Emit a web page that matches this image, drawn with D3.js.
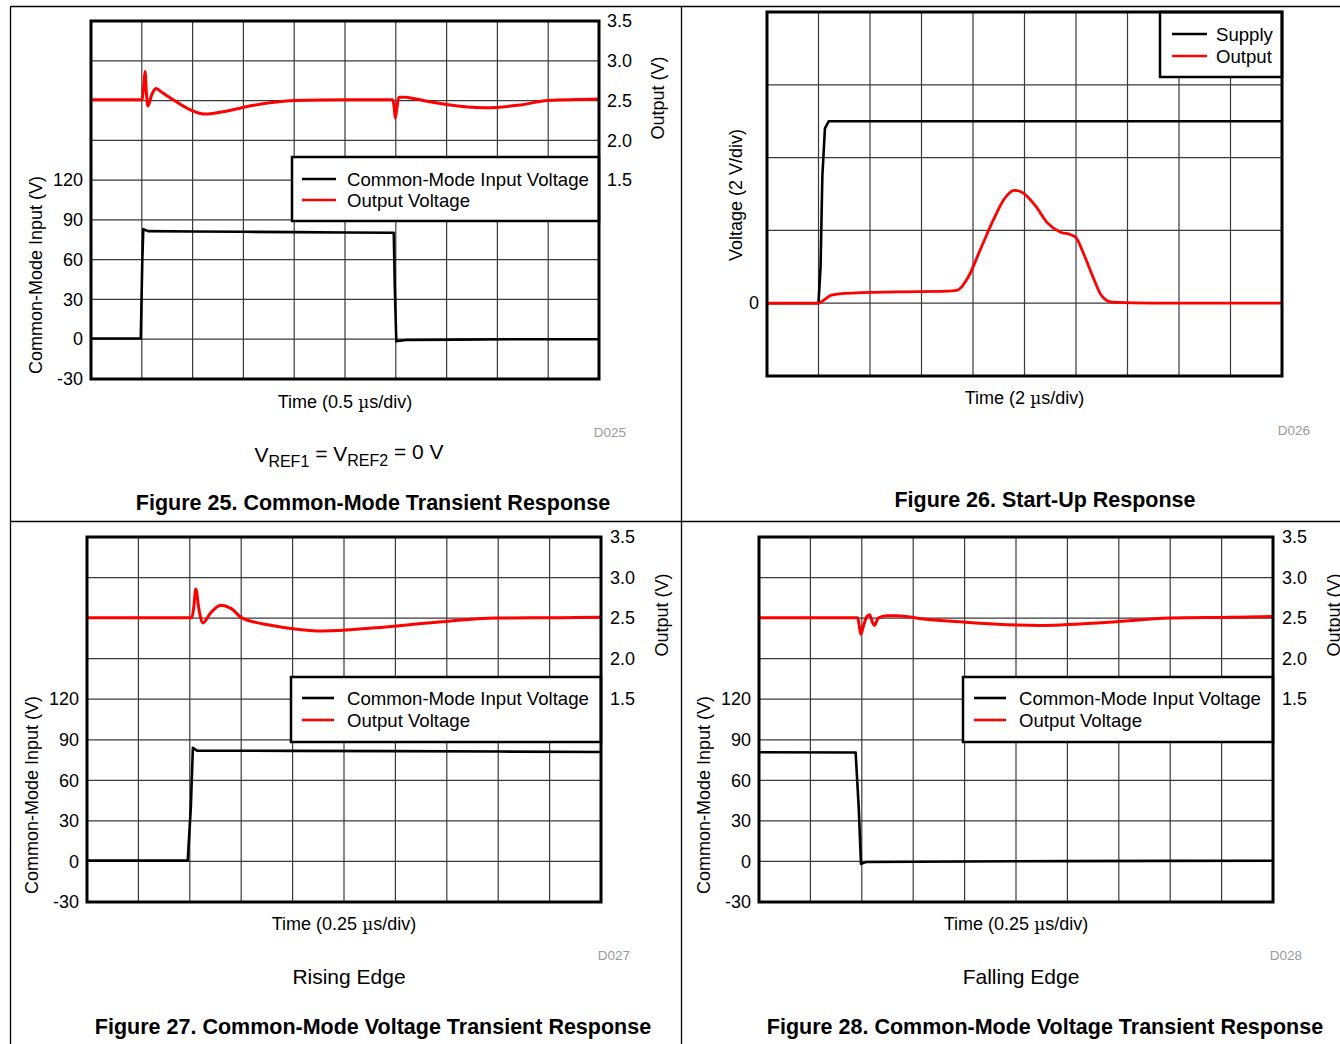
<!DOCTYPE html>
<html><head><meta charset="utf-8">
<script src="https://cdn.jsdelivr.net/npm/d3@7"></script>
<style>
html,body{margin:0;padding:0;background:#fff;}
svg{display:block;font-family:"Liberation Sans",Arial,sans-serif;}
</style></head>
<body>
<svg id="chart" width="1340" height="1044"></svg>
<script>
// ---------- DATA ----------
// Figure 25: time (us), common-mode input (V) / output (V)
const fig25Input = [[0,0.6],[0.49,0.6],[0.505,60],[0.515,83],[0.56,81.5],[1.0,81.2],[1.5,81],[2.0,80.8],[2.5,80.5],[2.98,80.3],[2.99,40],[3.005,-1.5],[3.1,-0.6],[3.6,-0.3],[4.2,0],[5,0]];
const fig25Output = [[0,2.51],[0.5,2.51],[0.52,2.7],[0.532,2.865],[0.545,2.6],[0.56,2.43],[0.6,2.58],[0.64,2.65],[0.7,2.6],[0.82,2.5],[0.95,2.4],[1.12,2.33],[1.3,2.36],[1.6,2.44],[2.0,2.5],[2.5,2.51],[2.97,2.51],[2.985,2.4],[2.995,2.28],[3.01,2.4],[3.03,2.54],[3.1,2.54],[3.16,2.53],[3.27,2.5],[3.5,2.45],[3.87,2.41],[4.2,2.44],[4.5,2.5],[5,2.52]];
// Figure 26: time (us), voltage (V)
const fig26Supply = [[0,0],[2.0,0],[2.08,1.0],[2.15,3.5],[2.25,4.8],[2.4,5.0],[20,5.0]];
const fig26Output = [[0,0],[2.0,0],[2.2,0.08],[2.5,0.22],[3.0,0.27],[5.0,0.31],[7.0,0.33],[7.4,0.36],[7.8,0.7],[8.3,1.5],[8.8,2.3],[9.2,2.85],[9.6,3.1],[9.9,3.05],[10.4,2.7],[10.9,2.2],[11.4,1.95],[11.8,1.88],[12.0,1.8],[12.3,1.35],[12.7,0.65],[13.0,0.2],[13.4,0.03],[15,0],[20,0]];
// Figure 27: time (us), rising edge
const fig27Input = [[0,0.6],[0.49,0.6],[0.505,40],[0.515,84],[0.535,82],[1.0,81.8],[1.5,81.6],[2.0,81.3],[2.5,81]];
const fig27Output = [[0,2.505],[0.51,2.505],[0.52,2.65],[0.529,2.86],[0.545,2.6],[0.564,2.44],[0.6,2.56],[0.651,2.66],[0.7,2.62],[0.755,2.5],[0.9,2.41],[1.0,2.37],[1.145,2.34],[1.4,2.38],[1.7,2.45],[1.995,2.5],[2.3,2.505],[2.5,2.51]];
// Figure 28: time (us), falling edge
const fig28Input = [[0,80.8],[0.47,80.6],[0.485,40],[0.496,-1.8],[0.52,-0.4],[1.0,0],[1.5,0.2],[2.0,0.4],[2.5,0.5]];
const fig28Output = [[0,2.505],[0.48,2.505],[0.488,2.4],[0.495,2.30],[0.51,2.42],[0.525,2.52],[0.538,2.54],[0.55,2.46],[0.561,2.41],[0.58,2.5],[0.62,2.53],[0.67,2.53],[0.8,2.49],[1.0,2.45],[1.36,2.41],[1.7,2.45],[2.0,2.5],[2.3,2.51],[2.5,2.52]];

const cmTicks = ["-30", "0", "30", "60", "90", "120"];
const outTicks = ["1.5", "2.0", "2.5", "3.0", "3.5"];
const fig26Ticks = ["0"];

// ---------- DRAWING ----------
const svg = d3.select("#chart");
const FONT = '"Liberation Sans",Arial,sans-serif';
const TICK_FS = 18, TITLE_FS = 18, LEG_FS = 18.6, CAP_FS = 21.5, NOTE_FS = 21;

// page frame
const frame = svg.append("g").attr("stroke", "#000").attr("stroke-width", 1.3);
frame.append("line").attr("x1", 10.5).attr("x2", 1340).attr("y1", 6.5).attr("y2", 6.5);
frame.append("line").attr("x1", 10.5).attr("x2", 1340).attr("y1", 521.5).attr("y2", 521.5);
frame.append("line").attr("x1", 10.5).attr("x2", 10.5).attr("y1", 6.5).attr("y2", 1044);
frame.append("line").attr("x1", 681.5).attr("x2", 681.5).attr("y1", 6.5).attr("y2", 1044);

function panel(cfg) {
  const g = svg.append("g");
  const x = d3.scaleLinear().domain(cfg.xDomain).range([cfg.left, cfg.right]);
  const y = d3.scaleLinear().domain(cfg.yDomain).range([cfg.bottom, cfg.top]);
  const y2 = cfg.y2Domain ? d3.scaleLinear().domain(cfg.y2Domain).range([cfg.bottom, cfg.top]) : null;

  // grid
  const xs = d3.range(cfg.xDomain[0] + cfg.xStep, cfg.xDomain[1] - cfg.xStep / 2, cfg.xStep);
  const ys = d3.range(cfg.yDomain[0] + cfg.yStep, cfg.yDomain[1] - cfg.yStep / 2, cfg.yStep);
  g.append("g").selectAll("line").data(xs).join("line")
    .attr("x1", d => x(d)).attr("x2", d => x(d)).attr("y1", cfg.top).attr("y2", cfg.bottom)
    .attr("stroke", "#3a3a3a").attr("stroke-width", 1.2);
  g.append("g").selectAll("line").data(ys).join("line")
    .attr("y1", d => y(d)).attr("y2", d => y(d)).attr("x1", cfg.left).attr("x2", cfg.right)
    .attr("stroke", "#3a3a3a").attr("stroke-width", 1.2);

  // left axis
  const la = g.append("g").attr("transform", `translate(${cfg.left},0)`)
    .call(d3.axisLeft(y).tickValues(cfg.leftTicks.map(Number)).tickSize(0).tickPadding(cfg.leftPad).tickFormat(d => String(d)));
  la.select(".domain").remove();
  la.selectAll("text").attr("font-family", FONT).attr("font-size", TICK_FS).attr("fill", "#000");

  // right axis
  if (y2) {
    const ra = g.append("g").attr("transform", `translate(${cfg.right},0)`)
      .call(d3.axisRight(y2).tickValues(outTicks.map(Number)).tickSize(0).tickPadding(cfg.rightPad).tickFormat(d => d.toFixed(1)));
    ra.select(".domain").remove();
    ra.selectAll("text").attr("font-family", FONT).attr("font-size", TICK_FS).attr("fill", "#000");
  }

  // series
  const clipId = "clip" + cfg.id;
  svg.append("clipPath").attr("id", clipId).append("rect")
    .attr("x", cfg.left).attr("y", cfg.top).attr("width", cfg.right - cfg.left).attr("height", cfg.bottom - cfg.top);
  const sg = g.append("g").attr("clip-path", `url(#${clipId})`);
  cfg.series.forEach(s => {
    const ys_ = s.axis === 2 ? y2 : y;
    const line = d3.line().x(d => x(d[0])).y(d => ys_(d[1])).curve(s.curve || d3.curveMonotoneX);
    sg.append("path").datum(s.data).attr("d", line).attr("fill", "none")
      .attr("stroke", s.color).attr("stroke-width", s.width).attr("stroke-linejoin", "round");
  });

  // legend
  const L = cfg.legend;
  const lg = g.append("g");
  lg.append("rect").attr("x", L.x).attr("y", L.y).attr("width", L.w).attr("height", L.h)
    .attr("fill", "#fff").attr("stroke", "#000").attr("stroke-width", 2.5);
  L.items.forEach((it, i) => {
    const yy = L.y + L.first + i * L.gap;
    lg.append("line").attr("x1", L.x + L.s0).attr("x2", L.x + L.s1).attr("y1", yy).attr("y2", yy)
      .attr("stroke", it.color).attr("stroke-width", 2.6);
    lg.append("text").attr("x", L.x + L.tx).attr("y", yy).attr("dy", "0.35em")
      .attr("font-family", FONT).attr("font-size", LEG_FS).text(it.label);
  });

  // plot border
  g.append("rect").attr("x", cfg.left).attr("y", cfg.top).attr("width", cfg.right - cfg.left).attr("height", cfg.bottom - cfg.top)
    .attr("fill", "none").attr("stroke", "#000").attr("stroke-width", 3);

  // titles
  g.append("text").attr("transform", `translate(${cfg.yTitleX},${cfg.yTitleY}) rotate(-90)`)
    .attr("text-anchor", "middle").attr("dy", "0.35em").attr("font-family", FONT).attr("font-size", TITLE_FS).text(cfg.yTitle);
  if (cfg.y2Title) {
    g.append("text").attr("transform", `translate(${cfg.y2TitleX},${cfg.y2TitleY}) rotate(-90)`)
      .attr("text-anchor", "middle").attr("dy", "0.35em").attr("font-family", FONT).attr("font-size", TITLE_FS).text(cfg.y2Title);
  }
  const xt = g.append("text").attr("x", (cfg.left + cfg.right) / 2).attr("y", cfg.xTitleY).attr("dy", "0.35em")
    .attr("text-anchor", "middle").attr("font-family", FONT).attr("font-size", TITLE_FS);
  xt.append("tspan").text("Time (" + cfg.xUnit + " ");
  xt.append("tspan").attr("font-family", '"DejaVu Serif",serif').attr("font-size", 17).text("\u00b5");
  xt.append("tspan").text("s/div)");

  g.append("text").attr("x", cfg.dX).attr("y", cfg.dY).attr("dy", "0.35em").attr("text-anchor", "middle")
    .attr("font-family", FONT).attr("font-size", 13.5).attr("fill", "#999").text(cfg.dLabel);

  if (cfg.note) {
    const n = g.append("text").attr("x", cfg.noteX).attr("y", cfg.noteY).attr("dy", "0.35em")
      .attr("text-anchor", "middle").attr("font-family", FONT).attr("font-size", NOTE_FS);
    cfg.note(n);
  }
  g.append("text").attr("x", cfg.capX).attr("y", cfg.capY).attr("dy", "0.35em").attr("text-anchor", "middle")
    .attr("font-family", FONT).attr("font-size", CAP_FS).attr("font-weight", "bold").text(cfg.caption);
  return {x, y, y2, g};
}

const legendCM = [{label: "Common-Mode Input Voltage", color: "#000"}, {label: "Output Voltage", color: "#f00"}];

// Figure 25
panel({
  id: 25, left: 91, right: 599, top: 21, bottom: 379,
  xDomain: [0, 5], xStep: 0.5, yDomain: [-30, 240], yStep: 30, y2Domain: [-1, 3.5],
  leftTicks: cmTicks, leftPad: 8, rightPad: 8,
  series: [
    {data: fig25Input, color: "#000", width: 2.6, curve: d3.curveLinear},
    {data: fig25Output, color: "#f00", width: 3, axis: 2}
  ],
  legend: {x: 292, y: 157, w: 307, h: 64, first: 22, gap: 21, s0: 10, s1: 44, tx: 55, items: legendCM},
  yTitle: "Common-Mode Input (V)", yTitleX: 36, yTitleY: 275,
  y2Title: "Output (V)", y2TitleX: 658, y2TitleY: 98,
  xTitleY: 402, xUnit: "0.5",
  dLabel: "D025", dX: 610, dY: 432,
  note: n => {
    n.append("tspan").text("V");
    n.append("tspan").attr("font-size", 16).attr("dy", "0.3em").text("REF1");
    n.append("tspan").attr("dy", "-0.3em").text(" = V");
    n.append("tspan").attr("font-size", 16).attr("dy", "0.3em").text("REF2");
    n.append("tspan").attr("dy", "-0.3em").text(" = 0 V");
  },
  noteX: 349, noteY: 455,
  caption: "Figure 25. Common-Mode Transient Response", capX: 373, capY: 502
});

// Figure 26
panel({
  id: 26, left: 767, right: 1282, top: 12, bottom: 376,
  xDomain: [0, 20], xStep: 2, yDomain: [-2, 8], yStep: 2,
  leftTicks: fig26Ticks, leftPad: 8,
  series: [
    {data: fig26Supply, color: "#000", width: 2.6, curve: d3.curveLinear},
    {data: fig26Output, color: "#f00", width: 2.8}
  ],
  legend: {x: 1160, y: 12, w: 122, h: 65, first: 22, gap: 22, s0: 12, s1: 47, tx: 56,
    items: [{label: "Supply", color: "#000"}, {label: "Output", color: "#f00"}]},
  yTitle: "Voltage (2 V/div)", yTitleX: 736, yTitleY: 195,
  xTitleY: 398, xUnit: "2",
  dLabel: "D026", dX: 1294, dY: 430,
  caption: "Figure 26. Start-Up Response", capX: 1045, capY: 499
});

// Figure 27
panel({
  id: 27, left: 87, right: 601, top: 537, bottom: 902,
  xDomain: [0, 2.5], xStep: 0.25, yDomain: [-30, 240], yStep: 30, y2Domain: [-1, 3.5],
  leftTicks: cmTicks, leftPad: 8, rightPad: 9,
  series: [
    {data: fig27Input, color: "#000", width: 2.6, curve: d3.curveLinear},
    {data: fig27Output, color: "#f00", width: 3, axis: 2}
  ],
  legend: {x: 291, y: 677, w: 310, h: 65, first: 21, gap: 22, s0: 11, s1: 43, tx: 56, items: legendCM},
  yTitle: "Common-Mode Input (V)", yTitleX: 32, yTitleY: 795,
  y2Title: "Output (V)", y2TitleX: 662, y2TitleY: 615,
  xTitleY: 924, xUnit: "0.25",
  dLabel: "D027", dX: 614, dY: 955,
  note: n => n.text("Rising Edge"), noteX: 349, noteY: 977,
  caption: "Figure 27. Common-Mode Voltage Transient Response", capX: 373, capY: 1026
});

// Figure 28
panel({
  id: 28, left: 759, right: 1273, top: 537, bottom: 902,
  xDomain: [0, 2.5], xStep: 0.25, yDomain: [-30, 240], yStep: 30, y2Domain: [-1, 3.5],
  leftTicks: cmTicks, leftPad: 8, rightPad: 9,
  series: [
    {data: fig28Input, color: "#000", width: 2.6, curve: d3.curveLinear},
    {data: fig28Output, color: "#f00", width: 3, axis: 2}
  ],
  legend: {x: 963, y: 677, w: 310, h: 65, first: 21, gap: 22, s0: 11, s1: 43, tx: 56, items: legendCM},
  yTitle: "Common-Mode Input (V)", yTitleX: 704, yTitleY: 795,
  y2Title: "Output (V)", y2TitleX: 1334, y2TitleY: 615,
  xTitleY: 924, xUnit: "0.25",
  dLabel: "D028", dX: 1286, dY: 955,
  note: n => n.text("Falling Edge"), noteX: 1021, noteY: 977,
  caption: "Figure 28. Common-Mode Voltage Transient Response", capX: 1045, capY: 1026
});
</script>
</body></html>
